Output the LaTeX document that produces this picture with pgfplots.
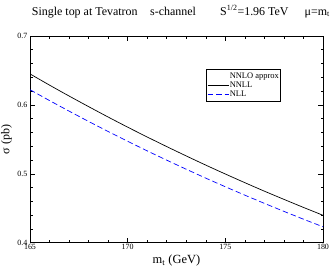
\documentclass[border=0pt]{standalone}
\usepackage{fontspec}
\setmainfont{Liberation Serif}
\usepackage{pgfplots}
\pgfplotsset{compat=1.18}
\begin{document}
\begin{tikzpicture}[x=1bp,y=1bp]
\useasboundingbox (0,0) rectangle (332,270);
\begin{axis}[
  at={(30bp,27.3bp)}, anchor=south west,
  scale only axis, width=293bp, height=206.7bp,
  xmin=165, xmax=180, ymin=0.4, ymax=0.7,
  xtick={165,170,175,180}, ytick={0.4,0.5,0.6,0.7},
  minor x tick num=4, minor y tick num=4,
  tick align=inside, tick pos=both,
  major tick length=5bp, minor tick length=2.5bp,
  axis line style={line width=0.8pt},
  every tick/.style={black, line width=0.6pt},
  /pgf/number format/assume math mode=true,
  /pgf/number format/.cd, fixed, precision=1, /pgfplots/.cd,
  xticklabel style={font=\fontsize{8}{8}\selectfont, inner sep=1bp},
  yticklabel style={font=\fontsize{8}{8}\selectfont, inner sep=1bp, xshift=-1.5bp},
  xlabel={m\textsubscript{t} (GeV)},
  ylabel={σ (pb)},
  xlabel style={font=\fontsize{12.5}{12.5}\selectfont, at={(axis description cs:0.5,-0.1)}, anchor=base},
  ylabel style={font=\fontsize{12}{12}\selectfont, at={(axis description cs:-0.061,0.5)}, anchor=south, inner sep=0pt},
  legend style={at={(0.6007,0.839)}, anchor=north west, draw=black, line width=0.5pt,
    font=\fontsize{8.5}{8.5}\selectfont, inner xsep=1bp, inner ysep=2bp,
    nodes={inner sep=0.8bp, text height=5.8bp, text depth=1.8bp}},
  legend image code/.code={\draw[#1] (0bp,0bp) -- (21bp,0bp);},
  legend cell align=left,
]
\addlegendimage{empty legend}
\addlegendentry{NNLO approx}
\addplot[black, line width=0.7pt, smooth] coordinates {
(165,0.6450)(166,0.6287)(167,0.6129)(168,0.5975)(169,0.5824)(170,0.5677)(171,0.5534)(172,0.5395)(173,0.5259)(174,0.5126)(175,0.4997)(176,0.4871)(177,0.4748)(178,0.4629)(179,0.4512)(180,0.4398)};
\addlegendentry{NNLL}
\addplot[blue, line width=0.7pt, dash pattern=on 5.5bp off 3bp, smooth] coordinates {
(165,0.6220)(166,0.6063)(167,0.5910)(168,0.5760)(169,0.5614)(170,0.5472)(171,0.5333)(172,0.5198)(173,0.5066)(174,0.4937)(175,0.4812)(176,0.4690)(177,0.4571)(178,0.4455)(179,0.4341)(180,0.4231)};
\addlegendentry{NLL}
\end{axis}
\node[anchor=base west, font=\fontsize{12}{12}\selectfont, inner sep=0] at (31.7,255) {Single top at Tevatron};
\node[anchor=base west, font=\fontsize{12}{12}\selectfont, inner sep=0] at (150,255) {s-channel};
\node[anchor=base west, font=\fontsize{12}{12}\selectfont, inner sep=0] at (220,255) {S\textsuperscript{1/2}=1.96 TeV};
\node[anchor=base west, font=\fontsize{12}{12}\selectfont, inner sep=0] at (304.5,255) {μ=m\textsubscript{t}};
\end{tikzpicture}
\end{document}
